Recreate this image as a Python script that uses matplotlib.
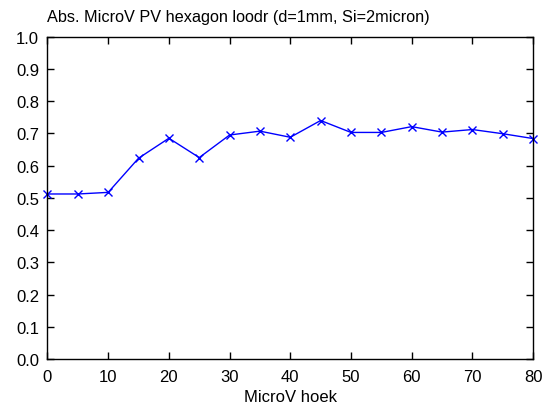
import matplotlib
matplotlib.use("Agg")
import matplotlib.pyplot as plt

# hoek (graden) en gemeten absorptie
hoek = [0, 5, 10, 15, 20, 25, 30, 35, 40, 45, 50, 55, 60, 65, 70, 75, 80]
absorptie = [0.512, 0.512, 0.517, 0.623, 0.685, 0.625, 0.695, 0.707, 0.688,
             0.740, 0.703, 0.703, 0.721, 0.704, 0.712, 0.699, 0.684]
x_ticks = list(range(0, 81, 10))
y_ticks = [i / 10 for i in range(11)]

plt.rcParams['font.family'] = ['Liberation Sans', 'DejaVu Sans']

fig = plt.figure(figsize=(5.49, 4.10), dpi=100)
ax = fig.add_axes([0.0865, 0.122, 0.8845, 0.786])

ax.plot(hoek, absorptie, color=(0, 0, 1), linewidth=1.0, marker='x',
        markersize=6, markeredgewidth=1.0, clip_on=False)

ax.set_xlim(0, 80)
ax.set_ylim(0, 1)
ax.set_xticks(x_ticks)
ax.set_yticks(y_ticks)
ax.set_yticklabels([f'{v:.1f}' for v in y_ticks])
ax.tick_params(direction='in', length=5, width=1, top=True, right=True,
               labelsize=12, colors='black')
ax.tick_params(axis='x', pad=7)
ax.tick_params(axis='y', pad=6)
for s in ax.spines.values():
    s.set_linewidth(1.0)

ax.set_xlabel('MicroV hoek', fontsize=12, labelpad=4)
fig.text(0.086, 0.947, 'Abs. MicroV PV hexagon loodr (d=1mm, Si=2micron)',
         fontsize=11.7, ha='left', va='baseline')

fig.savefig('out.png', dpi=100)
